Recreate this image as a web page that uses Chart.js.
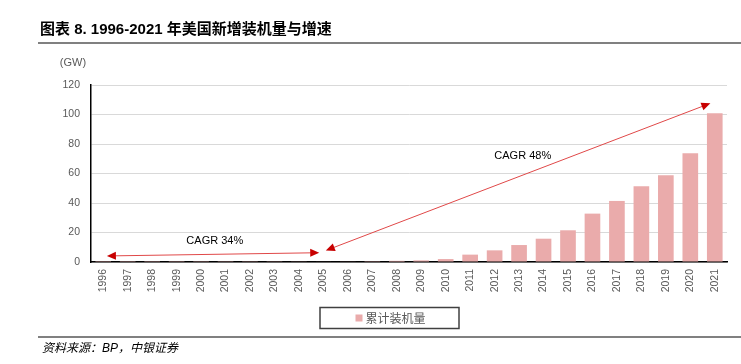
<!DOCTYPE html>
<html><head><meta charset="utf-8">
<script src="https://cdn.jsdelivr.net/npm/chart.js@4/dist/chart.umd.min.js"></script>
<style>
html,body{margin:0;padding:0;background:#fff;width:741px;height:364px;overflow:hidden;}
#wrap{position:absolute;left:0;top:0;width:741px;height:364px;}
#title{position:absolute;left:40px;top:17px;font:bold 15px "Liberation Sans Narrow","Liberation Sans","Noto Sans CJK SC",sans-serif;color:#000;white-space:nowrap;}
#tline{position:absolute;left:38px;top:42px;width:703px;height:2px;background:#808080;}
#fline{position:absolute;left:38px;top:336px;width:703px;height:2px;background:#808080;}
#foot{position:absolute;left:42px;top:338px;font:italic 12px "Liberation Sans","Noto Sans CJK SC",sans-serif;color:#000;white-space:nowrap;}
</style></head>
<body>
<div id="wrap"><canvas id="c" width="741" height="364"></canvas></div>
<div id="title">图表 8. 1996-2021 年美国新增装机量与增速</div>
<div id="tline"></div>
<div id="fline"></div>
<div id="foot">资料来源：BP，中银证券</div>
<script>
const years = ['1996','1997','1998','1999','2000','2001','2002','2003','2004','2005','2006','2007','2008','2009','2010','2011','2012','2013','2014','2015','2016','2017','2018','2019','2020','2021'];
const cumulative = [0.08,0.09,0.1,0.11,0.12,0.14,0.16,0.19,0.24,0.3,0.4,0.55,0.8,1.1,2.0,5.0,7.9,11.5,15.8,21.5,32.8,41.4,51.3,58.8,73.7,100.8];
const seriesName = '累计装机量';
const yTicks = {min:0, max:120, step:20};
const unitLabel = '(GW)';
// CAGR annotations in data units: [xIndex, value]
const cagrArrows = [
  {from:[0.15,4.1], to:[8.83,6.3], label:'CAGR 34%', at:[4.56,14.4]},
  {from:[9.1,7.8], to:[24.82,107.6], label:'CAGR 48%', at:[17.15,72.1]}
];
const barColor = 'rgb(234,171,171)';

function head(ctx, x1,y1,x2,y2){
  const a = Math.atan2(y2-y1,x2-x1);
  const L=9, W=4;
  ctx.beginPath();
  ctx.moveTo(x2,y2);
  ctx.lineTo(x2-L*Math.cos(a)+W*Math.sin(a), y2-L*Math.sin(a)-W*Math.cos(a));
  ctx.lineTo(x2-L*Math.cos(a)-W*Math.sin(a), y2-L*Math.sin(a)+W*Math.cos(a));
  ctx.closePath();
  ctx.fill();
}

const annot = {
  id:'annot',
  afterDatasetsDraw(chart){
    const ctx = chart.ctx, xs = chart.scales.x, ys = chart.scales.y;
    ctx.save();
    cagrArrows.forEach(a=>{
      const x1 = xs.getPixelForValue(a.from[0]), y1 = ys.getPixelForValue(a.from[1]);
      const x2 = xs.getPixelForValue(a.to[0]), y2 = ys.getPixelForValue(a.to[1]);
      const ang = Math.atan2(y2-y1,x2-x1);
      ctx.strokeStyle = '#e04848'; ctx.lineWidth = 1;
      ctx.beginPath();
      ctx.moveTo(x1+7*Math.cos(ang), y1+7*Math.sin(ang));
      ctx.lineTo(x2-7*Math.cos(ang), y2-7*Math.sin(ang));
      ctx.stroke();
      ctx.fillStyle = '#c80000';
      head(ctx,x1,y1,x2,y2);
      head(ctx,x2,y2,x1,y1);
      ctx.fillStyle = '#000';
      ctx.font = '11px "Liberation Sans", Arial, sans-serif';
      ctx.textAlign='center'; ctx.textBaseline='middle';
      ctx.fillText(a.label, xs.getPixelForValue(a.at[0]), ys.getPixelForValue(a.at[1]));
    });
    // unit label
    ctx.fillStyle = '#595959';
    ctx.font = '11px "Liberation Sans", Arial, sans-serif';
    ctx.textAlign='center'; ctx.textBaseline='middle';
    ctx.fillText(unitLabel, chart.chartArea.left-18, chart.chartArea.top-22);
    // legend
    const ca = chart.chartArea;
    const cx = (ca.left+ca.right)/2 - 19.5;
    const top = ca.bottom + 45;
    ctx.strokeStyle = '#404040'; ctx.lineWidth = 1.5;
    ctx.strokeRect(cx-69.5, top+0.5, 139, 21);
    ctx.font = '12px "Noto Sans CJK SC", sans-serif';
    ctx.textAlign='left';
    const tw = ctx.measureText(chart.data.datasets[0].label).width;
    const total = 7 + 3 + tw;
    const sx = cx - total/2 + 1;
    ctx.fillStyle = barColor;
    ctx.fillRect(sx, top+7.5, 7, 7);
    ctx.fillStyle = '#595959';
    ctx.fillText(chart.data.datasets[0].label, sx+10, top+11.5);
    ctx.restore();
  }
};

new Chart(document.getElementById('c'), {
  type:'bar',
  data:{labels:years, datasets:[{label:seriesName, data:cumulative, backgroundColor:barColor, borderWidth:0, barPercentage:0.64, categoryPercentage:1}]},
  options:{
    responsive:false, animation:false,
    layout:{padding:{top:85,right:14,bottom:28,left:0}},
    plugins:{legend:{display:false}, tooltip:{enabled:false}},
    scales:{
      x:{
        grid:{display:false, drawTicks:false},
        border:{display:true,color:'#000',width:1.5},
        ticks:{color:'#595959', font:{family:'"Liberation Sans", Arial, sans-serif', size:10.5}, minRotation:90, maxRotation:90, padding:7, autoSkip:false},
        afterFit(s){ s.height = 74; }
      },
      y:{
        min:yTicks.min, max:yTicks.max,
        grid:{color:'#d9d9d9', drawTicks:false, lineWidth:1},
        border:{display:true,color:'#000',width:1.5},
        ticks:{stepSize:yTicks.step, color:'#595959', font:{family:'"Liberation Sans", Arial, sans-serif', size:10.5}, padding:11},
        afterFit(s){ s.width = 91; }
      }
    }
  },
  plugins:[annot]
});
</script>
</body></html>
